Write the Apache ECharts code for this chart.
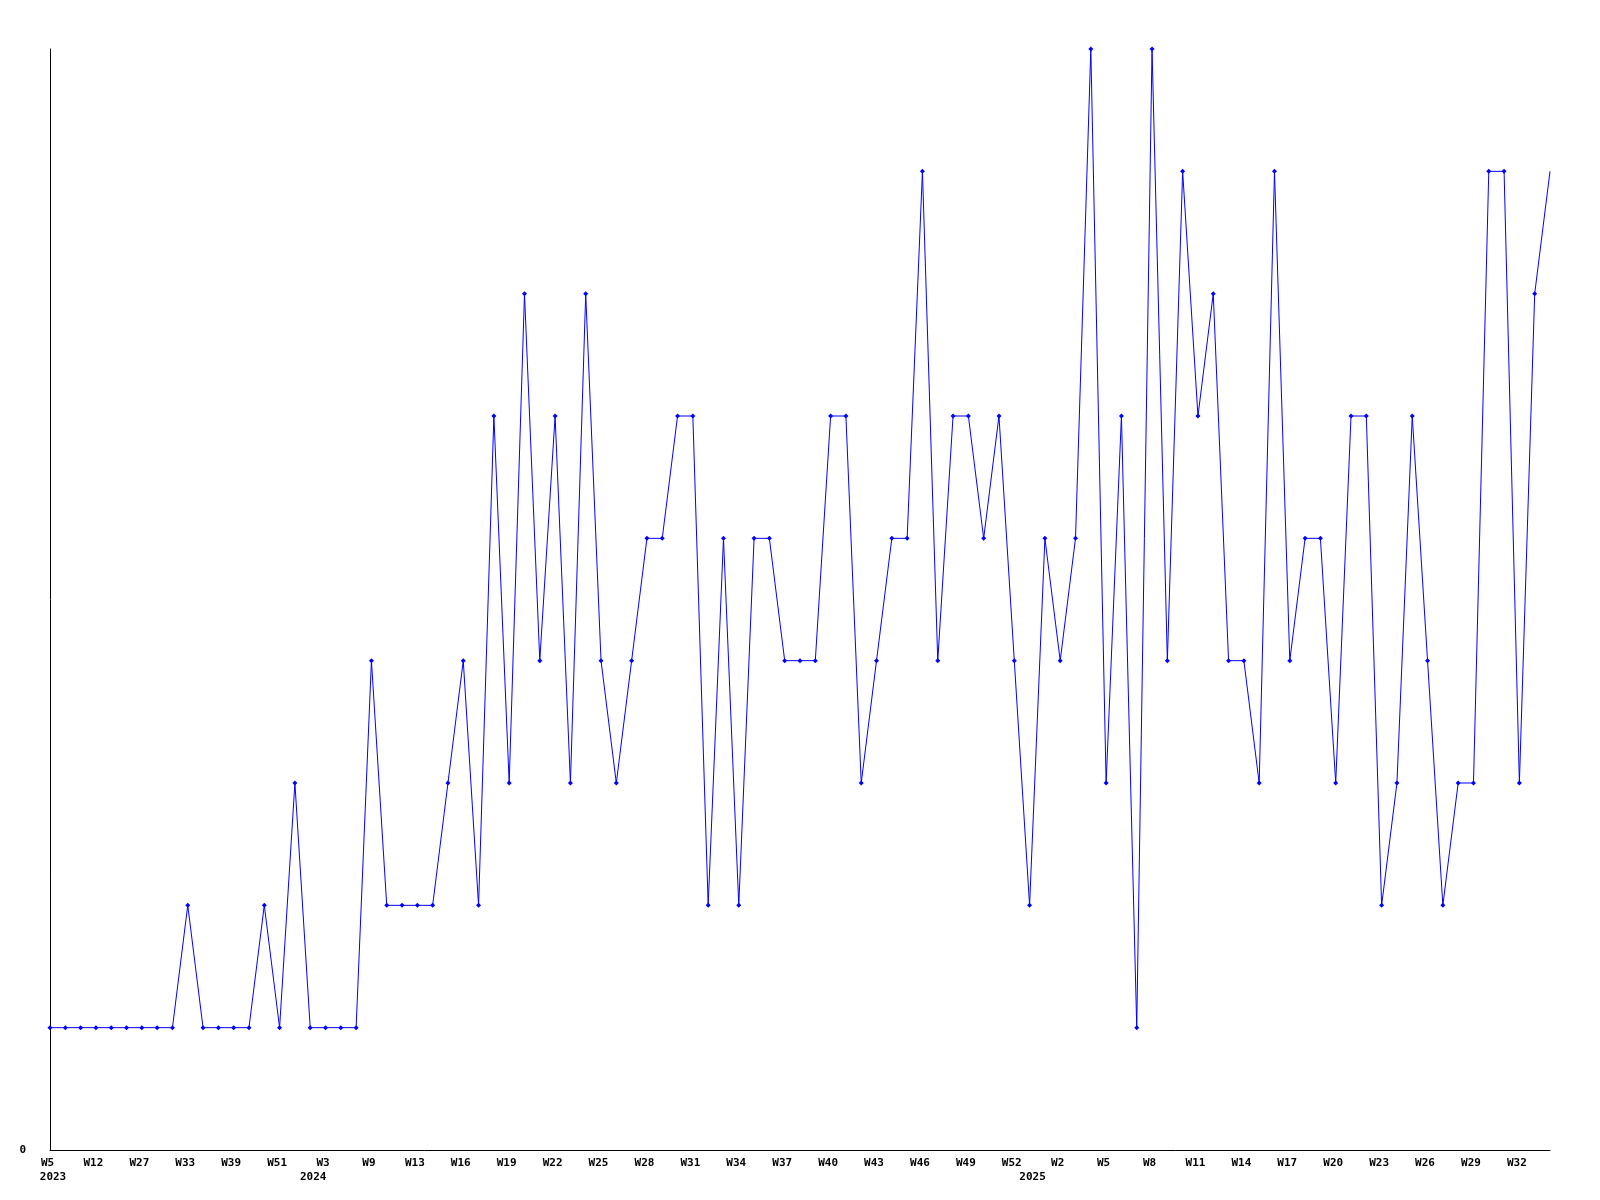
<!DOCTYPE html>
<html>
<head>
<meta charset="utf-8">
<script src="https://cdn.jsdelivr.net/npm/echarts@6/dist/echarts.min.js"></script>
<style>
html,body{margin:0;padding:0;background:#fff;}
#chart{width:1600px;height:1200px;}
</style>
</head>
<body>
<div id="chart"></div>
<script>
// Week categories (only every third one is labelled on the axis)
var weeks = [
  "W5","W6","W9","W12","W15","W20","W27","W29","W31","W33",
  "W35","W37","W39","W43","W47","W51","W52","W1","W3","W5",
  "W7","W9","W10","W12","W13","W14","W15","W16","W17","W18",
  "W19","W20","W21","W22","W23","W24","W25","W26","W27","W28",
  "W29","W30","W31","W32","W33","W34","W35","W36","W37","W38",
  "W39","W40","W41","W42","W43","W44","W45","W46","W47","W48",
  "W49","W50","W51","W52","W1","W1","W2","W3","W4","W5",
  "W6","W7","W8","W9","W10","W11","W12","W13","W14","W15",
  "W16","W17","W18","W19","W20","W21","W22","W23","W24","W25",
  "W26","W27","W28","W29","W30","W31","W32","W33","W34"
];
// Year labels: index of category where each year label sits
var yearIndex = [0, 17, 64];
var yearLabels = ["2023", "2024", "2025"];

var values = [
  1,1,1,1,1,1,1,1,1,2,
  1,1,1,1,2,1,3,1,1,1,
  1,4,2,2,2,2,3,4,2,6,
  3,7,4,6,3,7,4,3,4,5,
  5,6,6,2,5,2,5,5,4,4,
  4,6,6,3,4,5,5,8,4,6,
  6,5,6,4,2,5,4,5,9,3,
  6,1,9,4,8,6,7,4,4,3,
  8,4,5,5,3,6,6,2,3,6,
  4,2,3,3,8,8,3,7,8
];

var yMin = 0, yMax = 9;

var seriesData = values.map(function (v, i) {
  return i === values.length - 1 ? { value: v, symbol: 'none' } : v;
});

var chart = echarts.init(document.getElementById('chart'));
var font = '"DejaVu Sans Mono", monospace';
chart.setOption({
  animation: false,
  backgroundColor: '#ffffff',
  grid: { left: 50, right: 50, top: 49, bottom: 50, containLabel: false },
  xAxis: [
    {
      type: 'category',
      data: weeks,
      boundaryGap: false,
      axisLine: { show: true, lineStyle: { color: '#000', width: 1 } },
      axisTick: { show: false },
      splitLine: { show: false },
      axisLabel: {
        interval: 2,
        margin: 8,
        padding: [0, 5, 0, 0],
        color: '#000',
        fontFamily: font,
        fontWeight: 'bold',
        fontSize: 11
      }
    },
    {
      type: 'category',
      data: weeks,
      position: 'bottom',
      offset: 14,
      boundaryGap: false,
      axisLine: { show: false },
      axisTick: { show: false },
      splitLine: { show: false },
      axisLabel: {
        interval: function (idx) { return yearIndex.indexOf(idx) >= 0; },
        formatter: function (val, idx) {
          var k = yearIndex.indexOf(idx);
          return k >= 0 ? yearLabels[k] : '';
        },
        margin: 8,
        padding: [0, 0, 0, 6],
        color: '#000',
        fontFamily: font,
        fontWeight: 'bold',
        fontSize: 11
      }
    }
  ],
  yAxis: {
    type: 'value',
    min: yMin,
    max: yMax,
    interval: 9,
    axisLine: { show: true, lineStyle: { color: '#000', width: 1 } },
    axisTick: { show: false },
    splitLine: { show: false },
    axisLabel: {
      margin: 24,
      color: '#000',
      fontFamily: font,
      fontWeight: 'bold',
      fontSize: 11,
      formatter: function (v) { return v === 0 ? '0' : ''; }
    }
  },
  series: [{
    type: 'line',
    xAxisIndex: 0,
    data: seriesData,
    symbol: 'diamond',
    symbolSize: 5,
    showAllSymbol: true,
    lineStyle: { color: '#0000ff', width: 1 },
    itemStyle: { color: '#0000ff' },
    emphasis: { disabled: true }
  }]
});
</script>
</body>
</html>
